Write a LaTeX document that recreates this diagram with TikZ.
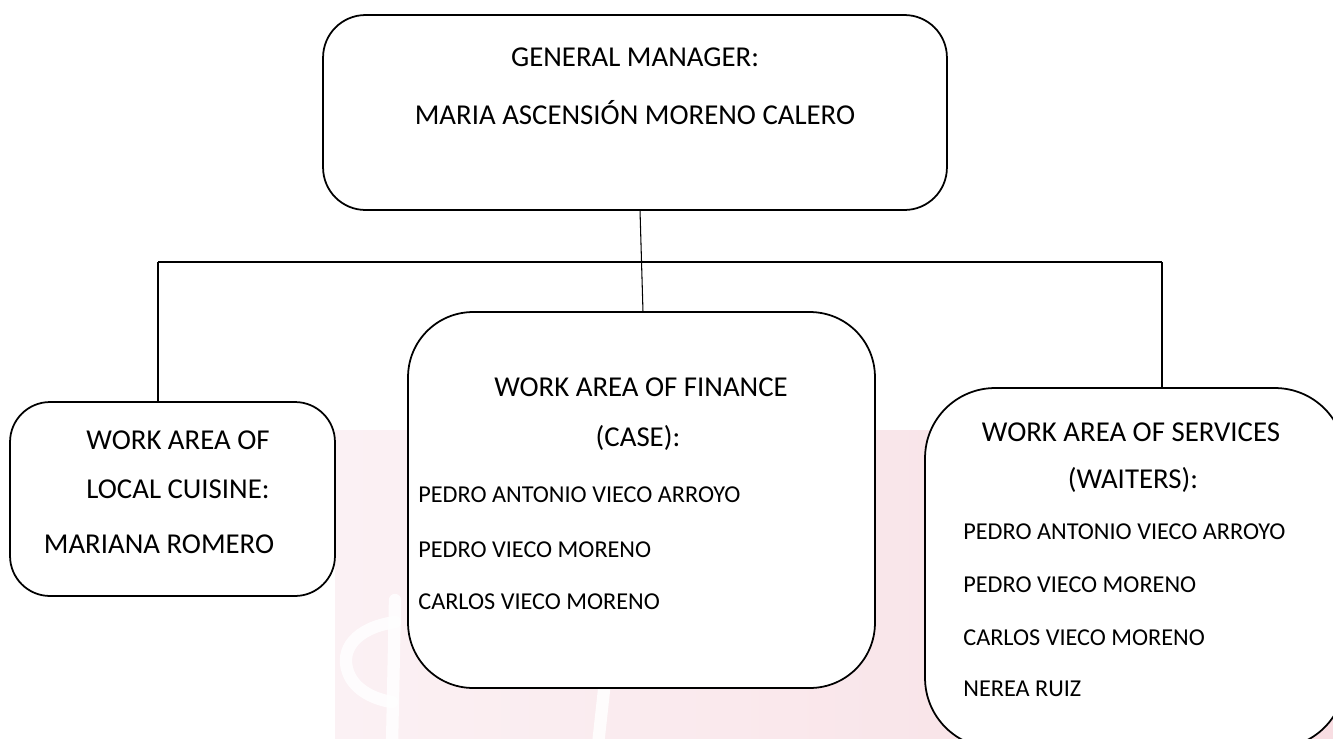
\documentclass[tikz,border=0pt]{standalone}
\usepackage{fontspec}
\setmainfont{Carlito}
\usetikzlibrary{calc}
\definecolor{wmpaleft}{RGB}{251,241,244}
\definecolor{wmpinkright}{RGB}{248,221,226}
\newcommand{\headfont}{\fontsize{16.4}{20}\selectfont}
\newcommand{\namefont}{\fontsize{13.8}{17}\selectfont}
\begin{document}
\begin{tikzpicture}
	[x=0.02cm,y=-0.02cm,
	box/.style={draw,line width=1pt,fill=white,rounded corners=#1,inner sep=0pt,outer sep=0pt},
	head/.style={anchor=base,inner sep=0pt,font=\headfont},
	member/.style={anchor=base west,inner sep=0pt,font=\namefont},
	conn/.style={line width=0.6pt},
	mark stroke/.style={white,opacity=0.85,line width=7pt,line cap=round}]
	\useasboundingbox (0,0) rectangle (1333,738);
	\clip (0,0) rectangle (1333,738);
	\shade[left color=wmpaleft,right color=wmpinkright] (335,430) rectangle (1333,738);
	\draw[mark stroke] (395,600) -- (392,745);
	\draw[mark stroke] (395,622) .. controls (355,628) and (340,650) .. (348,672) .. controls (355,692) and (378,700) .. (392,702);
	\draw[mark stroke] (604,690) -- (598,745);
	\node[box=0.85cm,minimum width=12.48cm,minimum height=3.9cm] (gm) at (635,112.5) {};
	\node[box=0.8cm,minimum width=6.5cm,minimum height=3.88cm] (cuisine) at (172.5,499) {};
	\node[box=1.3cm,minimum width=9.34cm,minimum height=7.52cm] (finance) at (641.5,500) {};
	\node[box=1.4cm,minimum width=8.4cm,minimum height=7.2cm] (services) at (1135,568) {};
	\coordinate (jl) at (158,262);
	\coordinate (jr) at (1162,262);
	\draw[conn] ([xshift=0.1cm]gm.south) -- ([xshift=0.03cm]finance.north);
	\draw[conn] (jl) -- (jr);
	\draw[conn] (jl) -- (jl |- cuisine.north);
	\draw[conn] (jr) -- (jr |- services.north);
	\node[head] (gmtitle) at (635,66) {GENERAL MANAGER:};
	\node[head] (gmname) at (635,124) {MARIA ASCENSIÓN MORENO CALERO};
	\node[head] (cutitle1) at (178,449) {WORK AREA OF};
	\node[head] (cutitle2) at (178,498) {LOCAL CUISINE:};
	\node[head] (cuname) at (159,553) {MARIANA ROMERO};
	\node[head] (fititle1) at (641,396) {WORK AREA OF FINANCE};
	\node[head] (fititle2) at (638,446) {(CASE):};
	\node[member] (fi1) at (418,502) {PEDRO ANTONIO VIECO ARROYO};
	\node[member] (fi2) at (418,557) {PEDRO VIECO MORENO};
	\node[member] (fi3) at (418,609) {CARLOS VIECO MORENO};
	\node[head] (setitle1) at (1131,441) {WORK AREA OF SERVICES};
	\node[head] (setitle2) at (1133,488) {(WAITERS):};
	\node[member] (se1) at (963,539) {PEDRO ANTONIO VIECO ARROYO};
	\node[member] (se2) at (963,592) {PEDRO VIECO MORENO};
	\node[member] (se3) at (963,645) {CARLOS VIECO MORENO};
	\node[member] (se4) at (963,696) {NEREA RUIZ};
\end{tikzpicture}
\end{document}
